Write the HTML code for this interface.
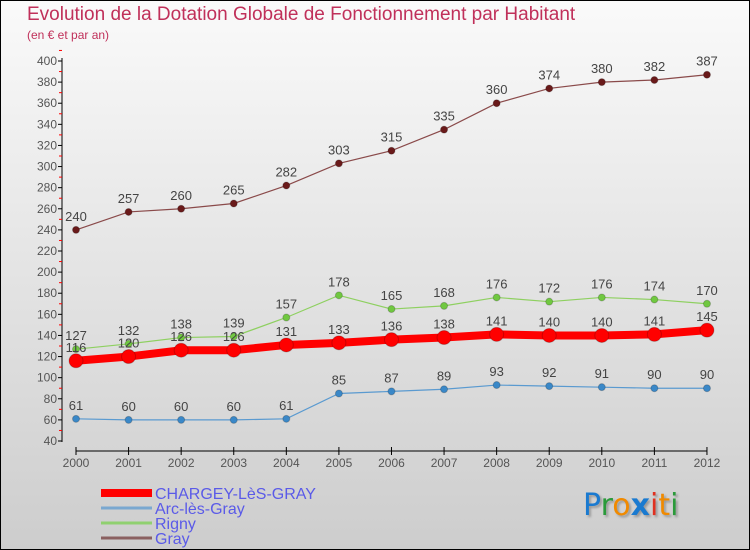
<!DOCTYPE html>
<html><head><meta charset="utf-8"><style>
body{margin:0}
#c{position:relative;width:748px;height:548px;border:1px solid #000;background:linear-gradient(#fafafa,#cdcdcd);font-family:"Liberation Sans",sans-serif;overflow:hidden}
.t{position:absolute;left:26px;top:3px;font-size:19px;color:#c0305a}
.s{position:absolute;left:26px;top:27px;font-size:12px;color:#c0305a}
</style></head><body>
<div id="c">
<div class="t">Evolution de la Dotation Globale de Fonctionnement par Habitant</div>
<div class="s">(en € et par an)</div>
<svg id="svg" width="748" height="548" style="position:absolute;left:0;top:0"></svg>
<div style="position:absolute;left:582px;top:487px;font-size:30px;font-family:'DejaVu Sans',sans-serif;text-shadow:2px 2px 2px #999"><span style="color:#1a7ad0">P</span><span style="color:#2a9a3a">r</span><span style="color:#f08a00">o</span><span style="color:#1a7ad0;font-weight:bold">x</span><span style="color:#e03020">i</span><span style="color:#f08a00">t</span><span style="color:#2a9a3a">i</span></div>
</div>
<script>
const years=[2000,2001,2002,2003,2004,2005,2006,2007,2008,2009,2010,2011,2012];
const chargey=[116,120,126,126,131,133,136,138,141,140,140,141,145];
const arc=[61,60,60,60,61,85,87,89,93,92,91,90,90];
const rigny=[127,132,138,139,157,178,165,168,176,172,176,174,170];
const gray=[240,257,260,265,282,303,315,335,360,374,380,382,387];
const yTicks=[40,60,80,100,120,140,160,180,200,220,240,260,280,300,320,340,360,380,400];
const svg=document.getElementById('svg');const NS='http://www.w3.org/2000/svg';
const X=i=>75+i*52.58, Y=v=>440-(v-40)*380/360;
function el(t,a,p){const e=document.createElementNS(NS,t);for(const k in a)e.setAttribute(k,a[k]);(p||svg).appendChild(e);return e;}
let ax=el('line',{x1:61,y1:57,x2:61,y2:441,stroke:'#000'});


yTicks.forEach(v=>{el('line',{x1:57,x2:61,y1:Y(v),y2:Y(v),stroke:'#000'});
 el('line',{x1:58,x2:61,y1:Y(v+10),y2:Y(v+10),stroke:'#f00'});
 const t=el('text',{x:56,y:Y(v)+4,'text-anchor':'end','font-size':12,fill:'#555'});t.textContent=v;
 
 });
let xa=el('line',{x1:75,y1:450,x2:X(12),y2:450,stroke:'#000'});


years.forEach((y,i)=>{el('line',{x1:X(i),x2:X(i),y1:446,y2:454,stroke:'#000'});
 const t=el('text',{x:X(i),y:466,'text-anchor':'middle','font-size':12,fill:'#555'});t.textContent=y;
 
 });
function series(d,col,dot,w,r,name){
 const g=el('g',{});
 
 
 el('polyline',{points:d.map((v,i)=>X(i)+','+Y(v)).join(' '),fill:'none',stroke:col,'stroke-width':w},g);
 d.forEach((v,i)=>{el('circle',{cx:X(i),cy:Y(v),r:r,fill:dot,stroke:'rgba(0,0,0,0.2)'},g);
  const t=el('text',{x:X(i),y:Y(v)-9,'text-anchor':'middle','font-size':13,fill:'#444'},g);t.textContent=v;});
}
series(gray,'#8a4a4a','#6a1a1a',1.2,3.5,'series-gray');
series(arc,'#5a9ad0','#3a88c8',1.2,3.5,'series-arc-les-gray');
series(rigny,'#8ed060','#70c840',1.2,3.5,'series-rigny');
series(chargey,'#f00','#f00',8,7,'series-chargey');
const leg=[['CHARGEY-LèS-GRAY','#f00',8],['Arc-lès-Gray','#7aa8d0',3],['Rigny','#90d070',3],['Gray','#8a6060',3]];
leg.forEach((l,i)=>{const y=492+i*15;
 const g=el('g',{});
 
 
 el('line',{x1:100,x2:151,y1:y,y2:y,stroke:l[1],'stroke-width':l[2]},g);
 const t=el('text',{x:154,y:y+6,'font-size':16,fill:'#5a5ae8'},g);t.textContent=l[0];});
</script>
</body></html>
